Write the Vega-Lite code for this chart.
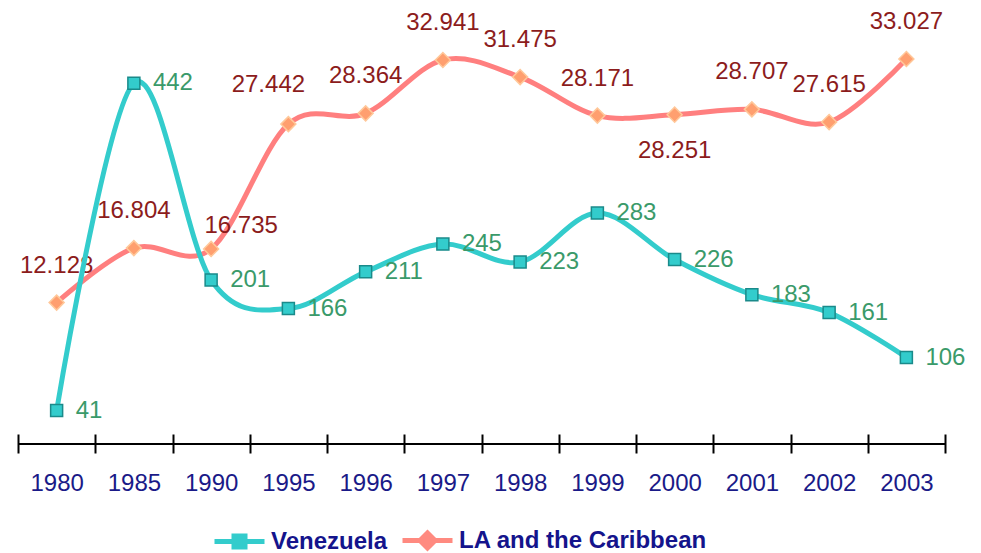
{
  "$schema": "https://vega.github.io/schema/vega-lite/v6.json",
  "width": 927,
  "height": 408,
  "autosize": {"type": "none"},
  "padding": {"left": 18, "top": 36, "right": 36, "bottom": 109},
  "background": "white",
  "config": {"view": {"stroke": null}, "font": "Liberation Sans"},
  "data": {
    "values": [
      {"year": "1980", "series": "Venezuela", "value": 41},
      {"year": "1985", "series": "Venezuela", "value": 442},
      {"year": "1990", "series": "Venezuela", "value": 201},
      {"year": "1995", "series": "Venezuela", "value": 166},
      {"year": "1996", "series": "Venezuela", "value": 211},
      {"year": "1997", "series": "Venezuela", "value": 245},
      {"year": "1998", "series": "Venezuela", "value": 223},
      {"year": "1999", "series": "Venezuela", "value": 283},
      {"year": "2000", "series": "Venezuela", "value": 226},
      {"year": "2001", "series": "Venezuela", "value": 183},
      {"year": "2002", "series": "Venezuela", "value": 161},
      {"year": "2003", "series": "Venezuela", "value": 106},
      {"year": "1980", "series": "LA and the Caribbean", "value": 12.128},
      {"year": "1985", "series": "LA and the Caribbean", "value": 16.804},
      {"year": "1990", "series": "LA and the Caribbean", "value": 16.735},
      {"year": "1995", "series": "LA and the Caribbean", "value": 27.442},
      {"year": "1996", "series": "LA and the Caribbean", "value": 28.364},
      {"year": "1997", "series": "LA and the Caribbean", "value": 32.941},
      {"year": "1998", "series": "LA and the Caribbean", "value": 31.475},
      {"year": "1999", "series": "LA and the Caribbean", "value": 28.171},
      {"year": "2000", "series": "LA and the Caribbean", "value": 28.251},
      {"year": "2001", "series": "LA and the Caribbean", "value": 28.707},
      {"year": "2002", "series": "LA and the Caribbean", "value": 27.615},
      {"year": "2003", "series": "LA and the Caribbean", "value": 33.027}
    ]
  },
  "layer": [
    {
      "mark": {"type": "rule", "stroke": "black", "strokeWidth": 2},
      "encoding": {"y": {"datum": 0, "type": "quantitative", "scale": {"domain": [0, 1]}, "axis": null}}
    },
    {
      "encoding": {
        "x": {
          "field": "year", "type": "ordinal", "sort": null,
          "scale": {"type": "band", "paddingInner": 0, "paddingOuter": 0},
          "axis": {
            "title": null, "domain": false, "grid": false, "labelAngle": 0,
            "labelFontSize": 24, "labelColor": "#1a1a88", "labelPadding": 18,
            "tickBand": "extent", "tickSize": 19, "tickColor": "black", "tickWidth": 2,
            "offset": -10
          }
        }
      },
      "layer": [
        {
          "transform": [{"filter": "datum.series == 'LA and the Caribbean'"}],
          "encoding": {"y": {"field": "value", "type": "quantitative", "scale": {"domain": [0, 35]}, "axis": null}},
          "layer": [
            {"mark": {"type": "line", "stroke": "#FF7F7F", "strokeWidth": 5, "interpolate": "cardinal"}},
            {"mark": {"type": "point", "shape": "diamond", "size": 225, "filled": true, "fill": "#FF9F6F", "stroke": "#FFC89A", "strokeWidth": 1.5, "opacity": 1}},
            {
              "transform": [{"filter": "datum.year != '1990' && datum.year != '1995' && datum.year != '2000'"}],
              "mark": {"type": "text", "fontSize": 24, "color": "#8c1c1c", "dy": -37, "align": "center", "baseline": "middle"},
              "encoding": {"text": {"field": "value", "type": "quantitative", "format": ".3f"}}
            },
            {
              "transform": [{"filter": "datum.year == '1990'"}],
              "mark": {"type": "text", "fontSize": 24, "color": "#8c1c1c", "dx": 30, "dy": -23, "align": "center", "baseline": "middle"},
              "encoding": {"text": {"field": "value", "type": "quantitative", "format": ".3f"}}
            },
            {
              "transform": [{"filter": "datum.year == '1995'"}],
              "mark": {"type": "text", "fontSize": 24, "color": "#8c1c1c", "dx": -20, "dy": -39, "align": "center", "baseline": "middle"},
              "encoding": {"text": {"field": "value", "type": "quantitative", "format": ".3f"}}
            },
            {
              "transform": [{"filter": "datum.year == '2000'"}],
              "mark": {"type": "text", "fontSize": 24, "color": "#8c1c1c", "dy": 36, "align": "center", "baseline": "middle"},
              "encoding": {"text": {"field": "value", "type": "quantitative", "format": ".3f"}}
            }
          ]
        },
        {
          "transform": [{"filter": "datum.series == 'Venezuela'"}],
          "encoding": {"y": {"field": "value", "type": "quantitative", "scale": {"domain": [0, 500]}, "axis": null}},
          "layer": [
            {"mark": {"type": "line", "stroke": "#33CCCC", "strokeWidth": 5, "interpolate": "cardinal"}},
            {"mark": {"type": "point", "shape": "square", "size": 144, "filled": true, "fill": "#33CCCC", "stroke": "#1A8A8A", "strokeWidth": 1.5, "opacity": 1}},
            {
              "mark": {"type": "text", "fontSize": 24, "color": "#3A9A6A", "dx": 19, "align": "left", "baseline": "middle"},
              "encoding": {"text": {"field": "value", "type": "quantitative"}}
            }
          ]
        }
      ],
      "resolve": {"scale": {"y": "independent"}}
    },
    {
      "mark": {"type": "point", "filled": true, "opacity": 0},
      "encoding": {
        "color": {
          "field": "series", "type": "nominal",
          "scale": {"domain": ["Venezuela", "LA and the Caribbean"], "range": ["#33CCCC", "#FF8A80"]},
          "legend": {
            "orient": "none", "legendX": 194, "legendY": 477, "direction": "horizontal",
            "title": null, "labelFontSize": 24, "labelFontWeight": "bold", "labelColor": "#14148c",
            "labelLimit": 0,
            "symbolSize": 2500, "symbolOpacity": 1, "symbolStrokeWidth": 5,
            "labelOffset": 4, "columnPadding": 4, "padding": 0,
            "encode": {"symbols": {"update": {"stroke": {"scale": "color", "field": "value"}}}}
          }
        },
        "shape": {
          "field": "series", "type": "nominal",
          "scale": {"domain": ["Venezuela", "LA and the Caribbean"], "range": ["M-1,0H-0.22M0.22,0H1M-0.22,-0.22H0.22V0.22H-0.22Z", "M-1,0H-0.3M0.3,0H1M0,-0.3L0.3,0L0,0.3L-0.3,0Z"]}
        }
      }
    }
  ],
  "resolve": {"scale": {"y": "independent"}}
}
